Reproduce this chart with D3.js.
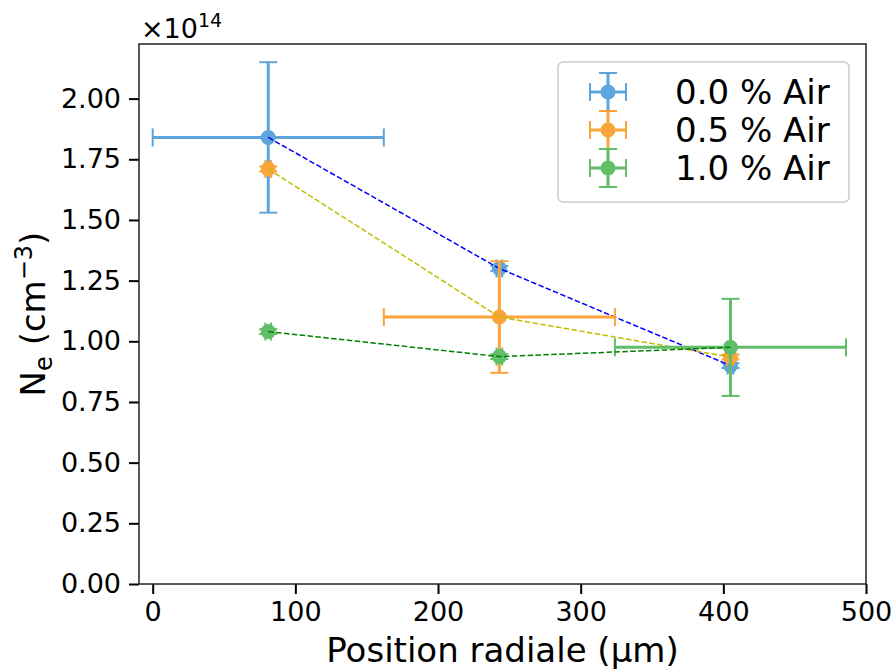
<!DOCTYPE html>
<html>
<head>
<meta charset="utf-8">
<script src="https://cdn.jsdelivr.net/npm/d3@7"></script>
<style>
html,body{margin:0;padding:0;background:#fff;}
svg text{font-family:"DejaVu Sans",sans-serif;fill:#000;}
</style>
</head>
<body>
<svg id="chart" width="896" height="669"></svg>
<script>
// ---- data ----
const positions = [81, 243, 405];            // µm
const seriesNames = ["0.0 % Air", "0.5 % Air", "1.0 % Air"];
const ne00 = [1.84, 1.30, 0.90];
const ne05 = [1.71, 1.10, 0.935];
const ne10 = [1.04, 0.937, 0.975];
const yerr00 = [0.31, 0.01, 0.01];
const yerr05 = [0.01, 0.23, 0.01];
const yerr10 = [0.01, 0.01, 0.20];
const xerr00 = [81, 2, 2];
const xerr05 = [2, 81, 2];
const xerr10 = [2, 2, 81];
const xTicks = [0, 100, 200, 300, 400, 500];
const yTicks = [0, 0.25, 0.5, 0.75, 1.0, 1.25, 1.5, 1.75, 2.0];
const barColors = ["#5DA5DA", "#FAA43A", "#60BD68"];
const lineColors = ["#0000ff", "#bfbf00", "#008000"];

const series = [
  {name: seriesNames[0], y: ne00, ye: yerr00, xe: xerr00},
  {name: seriesNames[1], y: ne05, ye: yerr05, xe: xerr05},
  {name: seriesNames[2], y: ne10, ye: yerr10, xe: xerr10}
];

const L = 139, T = 44, R = 866, B = 584;
const svg = d3.select("#chart");
const x = d3.scaleLinear().domain([-9.6, 500]).range([L, R]);
const y = d3.scaleLinear().domain([0, 2.225]).range([B, T]);

// axes
const xAxis = d3.axisBottom(x).tickValues(xTicks).tickSize(10).tickPadding(8).tickFormat(d3.format("d"));
const yAxis = d3.axisLeft(y).tickValues(yTicks).tickSize(10).tickPadding(8).tickFormat(d3.format(".2f"));
const gx = svg.append("g").attr("transform", `translate(0,${B})`).call(xAxis);
const gy = svg.append("g").attr("transform", `translate(${L},0)`).call(yAxis);
[gx, gy].forEach(g => {
  g.select(".domain").remove();
  g.selectAll(".tick line").attr("stroke", "#000").attr("stroke-width", 2);
  g.selectAll(".tick text").attr("font-size", 27).attr("fill", "#000");
});
gx.selectAll(".tick text").attr("dy", "0.71em");

// plot area clip
svg.append("clipPath").attr("id", "clip").append("rect")
  .attr("x", L).attr("y", T).attr("width", R - L).attr("height", B - T);
const plot = svg.append("g").attr("clip-path", "url(#clip)");

const cap = 9;
series.forEach((s, i) => {
  const g = plot.append("g");
  const col = barColors[i];
  positions.forEach((p, j) => {
    const cx = x(p), cy = y(s.y[j]);
    const x0 = x(p - s.xe[j]), x1 = x(p + s.xe[j]);
    const y0 = y(s.y[j] - s.ye[j]), y1 = y(s.y[j] + s.ye[j]);
    g.append("line").attr("x1", x0).attr("x2", x1).attr("y1", cy).attr("y2", cy)
      .attr("stroke", col).attr("stroke-width", 3);
    g.append("line").attr("x1", cx).attr("x2", cx).attr("y1", y0).attr("y2", y1)
      .attr("stroke", col).attr("stroke-width", 3);
    [x0, x1].forEach(xx => g.append("line").attr("x1", xx).attr("x2", xx)
      .attr("y1", cy - cap).attr("y2", cy + cap).attr("stroke", col).attr("stroke-width", 2));
    [y0, y1].forEach(yy => g.append("line").attr("y1", yy).attr("y2", yy)
      .attr("x1", cx - cap).attr("x2", cx + cap).attr("stroke", col).attr("stroke-width", 2));
  });
  g.selectAll("circle").data(positions).join("circle")
    .attr("cx", p => x(p)).attr("cy", (p, j) => y(s.y[j])).attr("r", 7.5).attr("fill", col);
  const line = d3.line().x(p => x(p)).y((p, j) => y(s.y[j]));
  g.append("path").datum(positions).attr("d", line).attr("fill", "none")
    .attr("stroke", lineColors[i]).attr("stroke-width", 1.5).attr("stroke-dasharray", "5.5,2.4");
});

// frame
svg.append("rect").attr("x", L).attr("y", T).attr("width", R - L).attr("height", B - T)
  .attr("fill", "none").attr("stroke", "#222").attr("stroke-width", 1.5);

// axis labels
svg.append("text").attr("x", (L + R) / 2).attr("y", 662).attr("text-anchor", "middle")
  .attr("font-size", 34).text("Position radiale (µm)");
const yl = svg.append("text").attr("transform", `translate(45,${(T + B) / 2}) rotate(-90)`)
  .attr("text-anchor", "middle").attr("font-size", 34);
yl.append("tspan").text("N");
yl.append("tspan").attr("font-size", 24).attr("dy", 7).text("e");
yl.append("tspan").attr("dy", -7).text(" (cm");
yl.append("tspan").attr("font-size", 24).attr("dy", -13).text("−3");
yl.append("tspan").attr("dy", 13).text(")");

// offset text
const off = svg.append("text").attr("x", 141).attr("y", 38).attr("font-size", 27);
off.append("tspan").text("×10");
off.append("tspan").attr("font-size", 19).attr("dy", -11).text("14");

// legend
const lg = svg.append("g");
lg.append("rect").attr("x", 558).attr("y", 62).attr("width", 291).attr("height", 140)
  .attr("rx", 5).attr("fill", "#fff").attr("fill-opacity", 0.8)
  .attr("stroke", "#cccccc").attr("stroke-width", 1.5);
const rowY = [92, 130, 168];
series.forEach((s, i) => {
  const cy = rowY[i], cx = 608, col = barColors[i];
  const gg = lg.append("g");
  gg.append("line").attr("x1", cx - 18).attr("x2", cx + 18).attr("y1", cy).attr("y2", cy)
    .attr("stroke", col).attr("stroke-width", 3);
  gg.append("line").attr("x1", cx).attr("x2", cx).attr("y1", cy - 19).attr("y2", cy + 19)
    .attr("stroke", col).attr("stroke-width", 3);
  [cx - 18, cx + 18].forEach(xx => gg.append("line").attr("x1", xx).attr("x2", xx)
    .attr("y1", cy - cap).attr("y2", cy + cap).attr("stroke", col).attr("stroke-width", 2));
  [cy - 19, cy + 19].forEach(yy => gg.append("line").attr("y1", yy).attr("y2", yy)
    .attr("x1", cx - cap).attr("x2", cx + cap).attr("stroke", col).attr("stroke-width", 2));
  gg.append("circle").attr("cx", cx).attr("cy", cy).attr("r", 7.5).attr("fill", col);
  lg.append("text").attr("x", 675).attr("y", cy + 12).attr("font-size", 34).text(s.name);
});
</script>
</body>
</html>
